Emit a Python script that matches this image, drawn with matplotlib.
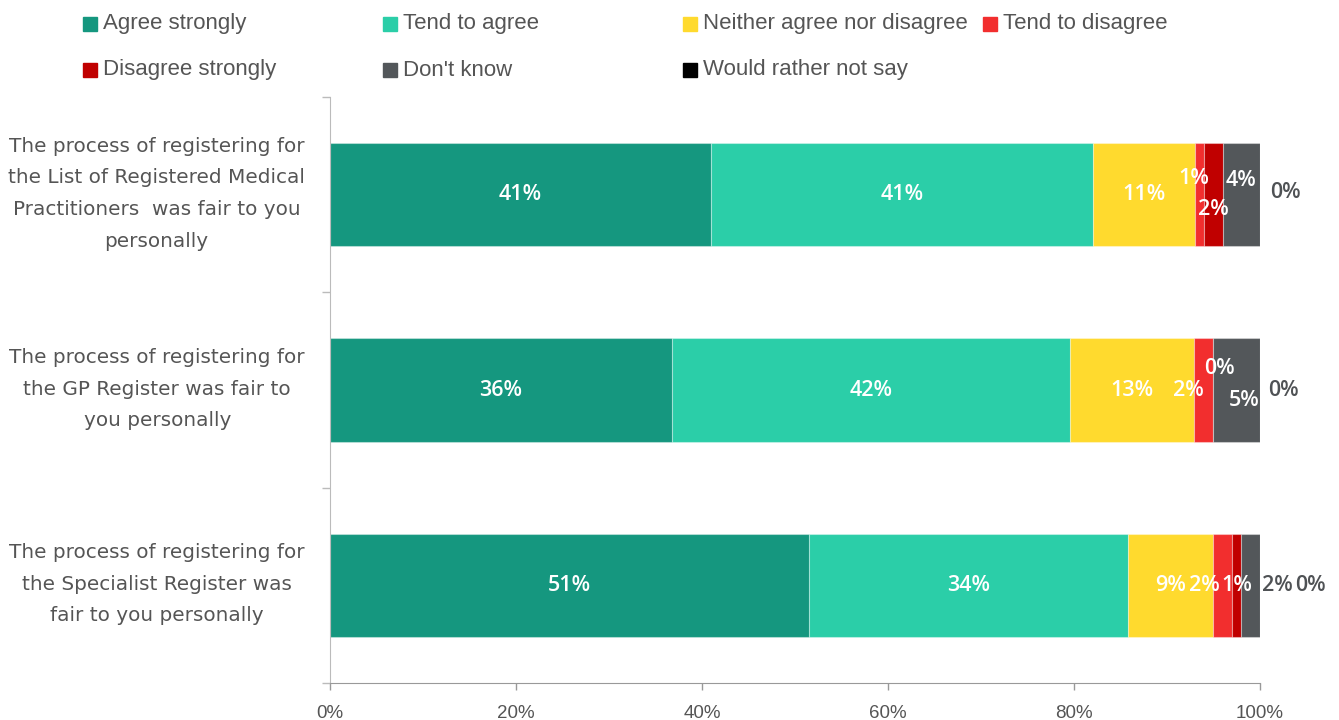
import matplotlib
matplotlib.use("Agg")
import matplotlib.pyplot as plt
from matplotlib.patches import Rectangle
import numpy as np

# ---------------- data ----------------
categories = [
    "The process of registering for\nthe List of Registered Medical\nPractitioners  was fair to you\npersonally",
    "The process of registering for\nthe GP Register was fair to\nyou personally",
    "The process of registering for\nthe Specialist Register was\nfair to you personally",
]
series_names = ["Agree strongly", "Tend to agree", "Neither agree nor disagree",
                "Tend to disagree", "Disagree strongly", "Don't know",
                "Would rather not say"]
agree_strongly = [41, 36, 51]
tend_to_agree = [41, 42, 34]
neither = [11, 13, 9]
tend_to_disagree = [1, 2, 2]
disagree_strongly = [2, 0, 1]
dont_know = [4, 5, 2]
rather_not_say = [0, 0, 0]
x_ticks = [0, 20, 40, 60, 80, 100]
x_tick_labels = ["0%", "20%", "40%", "60%", "80%", "100%"]

# ---------------- style ----------------
colors = ["#15977f", "#2bcea8", "#ffda2e", "#f22e2e", "#c00000", "#53575a", "#000000"]
text_gray = "#555555"
# label adjustments (pixels) for crowded labels: (row, series) -> (dx, dy, outside)
label_adjust = {
    (0, 3): (-6, 16, False), (0, 4): (0, -15, False), (0, 5): (0, 14, False),
    (0, 6): (25, 2, True),
    (1, 3): (-15, 0, False), (1, 4): (7, 22, False), (1, 5): (8, -10, False),
    (1, 6): (23, 0, True),
    (2, 3): (-18, 0, False), (2, 5): (27, 0, True), (2, 6): (50, 0, True),
}

W, H = 1339, 720
fig = plt.figure(figsize=(W / 100, H / 100), dpi=100)
ax = fig.add_axes([330 / W, 37 / H, 930 / W, 586 / H])

data = np.array([agree_strongly, tend_to_agree, neither, tend_to_disagree,
                 disagree_strongly, dont_know, rather_not_say], dtype=float)
totals = data.sum(axis=0)
shares = data / totals * 100.0

ypos = np.arange(len(categories))
left = np.zeros(len(categories))
bar_h = 0.53
for s in range(len(series_names)):
    ax.barh(ypos, shares[s], left=left, height=bar_h, color=colors[s],
            edgecolor=(1, 1, 1, 0.35), linewidth=0.8, label=series_names[s])
    for r in range(len(categories)):
        cx = left[r] + shares[s][r] / 2.0
        dx, dy, outside = label_adjust.get((r, s), (0, 0, False))
        ax.annotate(f"{int(data[s][r])}%", xy=(cx, ypos[r]), xytext=(dx, dy),
                    textcoords="offset pixels", ha="center", va="center",
                    color=("#4f5255" if outside else "white"),
                    fontsize=15.5, fontweight="semibold", family="Open Sans",
                    annotation_clip=False)
    left = left + shares[s]

ax.set_xlim(0, 100)
ax.set_ylim(len(categories) - 0.5, -0.5)
ax.set_xticks(x_ticks)
ax.set_xticklabels(x_tick_labels, family="Liberation Sans", fontsize=13.5, color=text_gray)

# category labels (drawn as text next to the axis, centred per category)
ax.set_yticks(ypos)
ax.set_yticklabels([])
ax.tick_params(axis="y", which="major", length=0)
for r, cat in enumerate(categories):
    ax.annotate(cat, xy=(0, ypos[r]), xycoords=("axes fraction", "data"),
                xytext=(-25, 1), textcoords="offset pixels",
                ha="right", va="center", multialignment="center",
                family="DejaVu Sans", fontsize=14.4, color=text_gray,
                linespacing=1.84, annotation_clip=False)

ax.set_yticks(np.arange(len(categories) + 1) - 0.5, minor=True)
ax.tick_params(axis="y", which="minor", length=6, color="#bbbbbb", width=1)
ax.tick_params(axis="x", length=5, color="#999999", width=1, pad=11)
for sp in ["top", "right"]:
    ax.spines[sp].set_visible(False)
ax.spines["bottom"].set_color("#999999")
ax.spines["left"].set_color("#bbbbbb")

# legend (grid of 4 columns)
for i, name in enumerate(series_names):
    row, col = divmod(i, 4)
    x0 = 83 + 300 * col
    yc = 24 + 46 * row
    fig.patches.append(Rectangle((x0 / W, 1 - (yc + 7) / H), 14 / W, 14 / H,
                                 transform=fig.transFigure, color=colors[i]))
    fig.text((x0 + 20) / W, 1 - yc / H, name, ha="left", va="center",
             family="Liberation Sans", fontsize=16, color=text_gray)

fig.savefig("out.png", dpi=100)
